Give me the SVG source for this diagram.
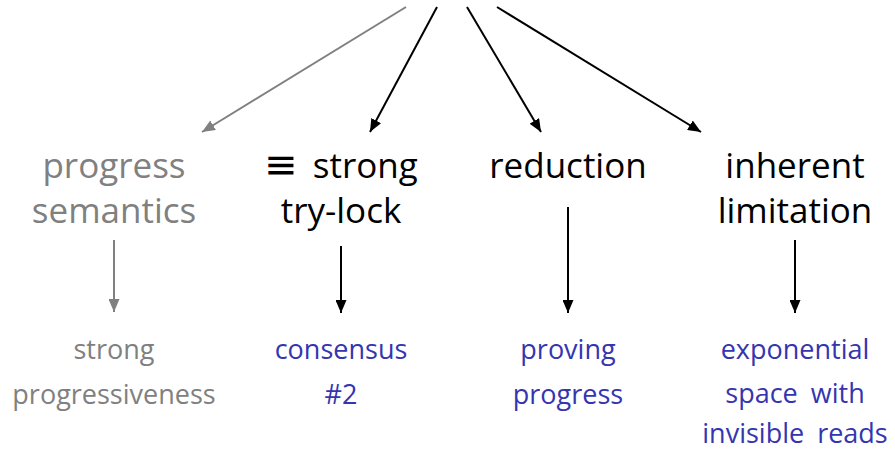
<svg xmlns="http://www.w3.org/2000/svg" width="895" height="451" viewBox="0 0 895 451">
<defs>
<marker id="ah" viewBox="0 0 13 11" refX="13" refY="5.5" markerWidth="13" markerHeight="11" markerUnits="userSpaceOnUse" orient="auto"><path d="M0,0 L13,5.5 L0,11 z" fill="#000"/></marker>
<marker id="ahg" viewBox="0 0 13 11" refX="13" refY="5.5" markerWidth="13" markerHeight="11" markerUnits="userSpaceOnUse" orient="auto"><path d="M0,0 L13,5.5 L0,11 z" fill="#808080"/></marker>
<style>
text{font-family:"Open Sans","Noto Sans","Liberation Sans",sans-serif;text-anchor:middle}
.big{font-size:35px}
.small{font-size:27px}
.k{fill:#000}
.g{fill:#808080}
.b{fill:#3535b0}
.ws{word-spacing:6px}
.eq{font-family:"DejaVu Sans",sans-serif;font-size:40px}
.c{stroke:#000;stroke-width:2;fill:none;marker-end:url(#ah)}
.cg{stroke:#808080;stroke-width:2;fill:none;marker-end:url(#ahg)}
</style>
</defs>
<g id="connectors">
<line class="cg" x1="406" y1="7" x2="202" y2="132"/>
<line class="c" x1="437" y1="7" x2="370" y2="132"/>
<line class="c" x1="467" y1="7" x2="541" y2="132"/>
<line class="c" x1="497" y1="7" x2="701" y2="132"/>
<line class="cg" x1="114" y1="240" x2="114" y2="312"/>
<line class="c" x1="341" y1="246" x2="341" y2="313"/>
<line class="c" x1="568" y1="207" x2="568" y2="313"/>
<line class="c" x1="795" y1="240" x2="795" y2="313"/>
</g>
<g id="progress-semantics"><text class="big g" x="114" y="178">progress</text><text class="big g" x="114" y="223">semantics</text></g>
<g id="strong-try-lock"><text class="big k ws" x="341" y="178"><tspan class="eq">≡</tspan> strong</text><text class="big k" x="341" y="223">try-lock</text></g>
<g id="reduction"><text class="big k" x="568" y="178">reduction</text></g>
<g id="inherent-limitation"><text class="big k" x="795" y="178">inherent</text><text class="big k" x="795" y="223">limitation</text></g>
<g id="strong-progressiveness"><text class="small g" x="114" y="359">strong</text><text class="small g" x="114" y="404">progressiveness</text></g>
<g id="consensus"><text class="small b" x="341" y="359">consensus</text><text class="small b" x="341" y="404">#2</text></g>
<g id="proving-progress"><text class="small b" x="568" y="359">proving</text><text class="small b" x="568" y="404">progress</text></g>
<g id="exponential-space"><text class="small b" x="795" y="359">exponential</text><text class="small b ws" x="795" y="403">space with</text><text class="small b ws" x="795" y="443">invisible reads</text></g>
</svg>
